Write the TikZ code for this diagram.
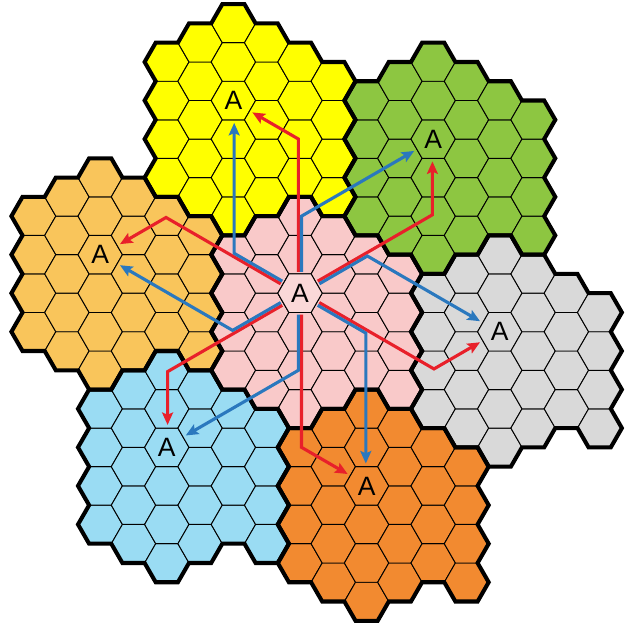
\documentclass[tikz,border=0pt]{standalone}
\usepackage{fontspec}
\setmainfont{Liberation Sans}
\usetikzlibrary{arrows.meta, shapes.geometric}

\definecolor{cellpink}{HTML}{F9C9C9}
\definecolor{cellpinkA}{HTML}{FAD8D8}
\definecolor{cellyellow}{HTML}{FFFF00}
\definecolor{cellgreen}{HTML}{8DC641}
\definecolor{cellgrey}{HTML}{D9D9D9}
\definecolor{cellorange}{HTML}{F28A30}
\definecolor{cellblue}{HTML}{9ADCF3}
\definecolor{celllight}{HTML}{F9C55B}
\definecolor{pathred}{HTML}{E8202A}
\definecolor{pathblue}{HTML}{2A78BE}

\tikzstyle{cell} = [draw=black, line width=0.6pt]
\tikzstyle{cluster} = [draw=black, line width=2.6pt]
\tikzstyle{channel} = [circle, minimum size=0.95cm, inner sep=0pt, font=\fontsize{17pt}{20pt}\selectfont]
\tikzstyle{pathline} = [line width=2pt, ->, >={Stealth[length=8pt,width=7pt,inset=1.5pt]}, shorten >=1.5pt]
\tikzstyle{redpath} = [pathline, draw=pathred]
\tikzstyle{bluepath} = [pathline, draw=pathblue]

% one hexagonal cell, centre (#1,#2), fill #3
\newcommand{\cellhex}[3]{\draw[cell, fill=#3] ({#1},{#2}) ++(1,0) -- ++(-0.5,1) -- ++(-1,0) -- ++(-0.5,-1) -- ++(0.5,-1) -- ++(1,0) -- cycle;}

% the 28 cells of a cluster, A cell at (#1,#2)
\newcommand{\drawcluster}[3]{%
  \foreach \q/\ylo/\n in {-2/-4/3, -1/-5/4, 0/-6/5, 1/-5/4, 2/-4/3, 3/-5/3}
    \foreach \k in {0,...,\n}
      \cellhex{#1+1.5*\q}{#2+\ylo+2*\k}{#3};
}

% thick outline of a cluster
\newcommand{\clusteroutline}[2]{%
  \draw[cluster, shift={(#1,#2)}] (-3.5,3) -- (-2.5,3) -- (-2,4) -- (-1,4) -- (-0.5,5) -- (0.5,5) -- (1,4) -- (2,4) -- (2.5,3) -- (3.5,3) -- (4,2) -- (5,2) -- (5.5,1) -- (5,0) -- (5.5,-1) -- (5,-2) -- (5.5,-3) -- (5,-4) -- (5.5,-5) -- (5,-6) -- (4,-6) -- (3.5,-5) -- (2.5,-5) -- (2,-6) -- (1,-6) -- (0.5,-7) -- (-0.5,-7) -- (-1,-6) -- (-2,-6) -- (-2.5,-5) -- (-3.5,-5) -- (-4,-4) -- (-3.5,-3) -- (-4,-2) -- (-3.5,-1) -- (-4,0) -- (-3.5,1) -- (-4,2) -- cycle;
}

\begin{document}
\begin{tikzpicture}[x=0.5cm, y=0.434cm]

\useasboundingbox (-6.757cm,-7.856cm) rectangle (7.387cm,6.604cm);

\drawcluster{0}{0}{cellpink}
\drawcluster{-3}{10}{cellyellow}
\drawcluster{6}{8}{cellgreen}
\drawcluster{9}{-2}{cellgrey}
\drawcluster{3}{-10}{cellorange}
\drawcluster{-6}{-8}{cellblue}
\drawcluster{-9}{2}{celllight}
\cellhex{0}{0}{cellpinkA}

\clusteroutline{0}{0}
\clusteroutline{-3}{10}
\clusteroutline{6}{8}
\clusteroutline{9}{-2}
\clusteroutline{3}{-10}
\clusteroutline{-6}{-8}
\clusteroutline{-9}{2}

\node at (0, 0) (apink) [channel] {A};
\node at (-3, 10) (ayellow) [channel] {A};
\node at (6, 8) (agreen) [channel] {A};
\node at (9, -2) (agrey) [channel] {A};
\node at (3, -10) (aorange) [channel] {A};
\node at (-6, -8) (ablue) [channel] {A};
\node at (-9, 2) (alight) [channel] {A};

\coordinate (redturn1) at (0, 8);
\coordinate (redturn2) at (-6, 4);
\coordinate (redturn3) at (-6, -4);
\coordinate (redturn4) at (0, -8);
\coordinate (redturn5) at (6, -4);
\coordinate (redturn6) at (6, 4);

\coordinate (blueturn1) at (-3, 2);
\coordinate (blueturn2) at (-3, -2);
\coordinate (blueturn3) at (0, -4);
\coordinate (blueturn4) at (3, -2);
\coordinate (blueturn5) at (3, 2);
\coordinate (blueturn6) at (0, 4);

\draw [redpath, transform canvas={shift={(180:1pt)}}] (apink) -- (redturn1) -- (ayellow);
\draw [redpath, transform canvas={shift={(240:1pt)}}] (apink) -- (redturn2) -- (alight);
\draw [redpath, transform canvas={shift={(300:1pt)}}] (apink) -- (redturn3) -- (ablue);
\draw [redpath, transform canvas={shift={(0:1pt)}}] (apink) -- (redturn4) -- (aorange);
\draw [redpath, transform canvas={shift={(60:1pt)}}] (apink) -- (redturn5) -- (agrey);
\draw [redpath, transform canvas={shift={(120:1pt)}}] (apink) -- (redturn6) -- (agreen);

\draw [bluepath, transform canvas={shift={(60:1pt)}}] (apink) -- (blueturn1) -- (ayellow);
\draw [bluepath, transform canvas={shift={(120:1pt)}}] (apink) -- (blueturn2) -- (alight);
\draw [bluepath, transform canvas={shift={(180:1pt)}}] (apink) -- (blueturn3) -- (ablue);
\draw [bluepath, transform canvas={shift={(240:1pt)}}] (apink) -- (blueturn4) -- (aorange);
\draw [bluepath, transform canvas={shift={(300:1pt)}}] (apink) -- (blueturn5) -- (agrey);
\draw [bluepath, transform canvas={shift={(0:1pt)}}] (apink) -- (blueturn6) -- (agreen);

\end{tikzpicture}
\end{document}
